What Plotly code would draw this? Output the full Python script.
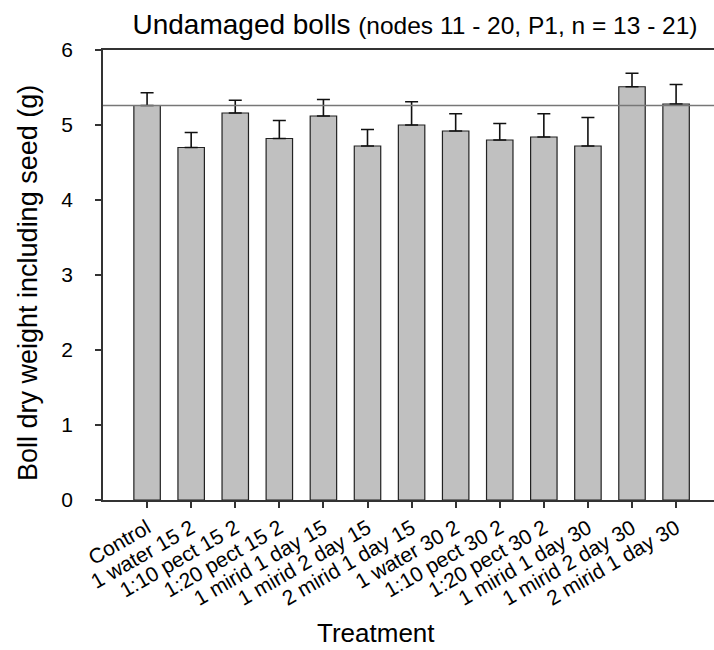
import plotly.graph_objects as go

# Treatment groups and mean boll dry weight (g) with upper standard error
treatments = [
    "Control", "1 water 15 2", "1:10 pect 15 2", "1:20 pect 15 2",
    "1 mirid 1 day 15", "1 mirid 2 day 15", "2 mirid 1 day 15",
    "1 water 30 2", "1:10 pect 30 2", "1:20 pect 30 2",
    "1 mirid 1 day 30", "1 mirid 2 day 30", "2 mirid 1 day 30",
]
mean_weight = [5.26, 4.70, 5.16, 4.82, 5.12, 4.72, 5.00,
               4.92, 4.80, 4.84, 4.72, 5.51, 5.28]
std_error = [0.17, 0.20, 0.17, 0.24, 0.22, 0.22, 0.31,
             0.23, 0.22, 0.31, 0.38, 0.18, 0.26]
y_ticks = [0, 1, 2, 3, 4, 5, 6]

FONT = "Liberation Sans, Arial, Helvetica, sans-serif"
x_pos = list(range(len(treatments)))

fig = go.Figure()
fig.add_trace(go.Bar(
    x=x_pos,
    y=mean_weight,
    width=0.6,
    marker=dict(color="#c0c0c0", line=dict(color="#222222", width=1.2)),
    error_y=dict(
        type="data",
        array=std_error,
        arrayminus=[0] * len(std_error),
        symmetric=False,
        color="#111111",
        thickness=1.6,
        width=6.5,
    ),
    hoverinfo="x+y",
))

# Horizontal reference at the control mean
fig.add_shape(
    type="line", xref="paper", x0=0, x1=1,
    yref="y", y0=mean_weight[0], y1=mean_weight[0],
    line=dict(color="#777777", width=1.5), layer="above",
)

fig.update_layout(
    width=714, height=650,
    margin=dict(l=103, r=0, t=50, b=150, pad=0),
    paper_bgcolor="white", plot_bgcolor="white",
    showlegend=False,
    font=dict(family=FONT, color="black"),
    title=dict(
        text="Undamaged bolls <span style='font-size:24.5px'>(nodes 11 - 20, P1, n = 13 - 21)</span>",
        font=dict(size=28, family=FONT, color="black"),
        x=(415 - 103) / 611, xref="paper", xanchor="center",
        y=1 - 24 / 650, yref="container", yanchor="middle",
    ),
    xaxis=dict(
        range=[-1, 12.86],
        tickmode="array", tickvals=x_pos, ticktext=treatments,
        tickangle=-30, tickfont=dict(size=21, family=FONT, color="black"),
        ticks="outside", ticklen=6, tickwidth=1.5, tickcolor="#333333",
        showline=True, linecolor="#333333", linewidth=1.5, mirror=True,
        showgrid=False, zeroline=False,
    ),
    yaxis=dict(
        range=[0, 6],
        tickmode="array", tickvals=y_ticks,
        tickfont=dict(size=21, family=FONT, color="black"),
        ticks="outside", ticklen=6, tickwidth=1.5, tickcolor="#333333",
        ticklabelstandoff=18,
        showline=True, linecolor="#333333", linewidth=1.5, mirror=False,
        showgrid=False, zeroline=False,
    ),
    annotations=[
        dict(text="Boll dry weight including seed (g)", textangle=-90,
             xref="paper", yref="paper", x=(28 - 103) / 611, y=(500 - 283) / 450,
             xanchor="center", yanchor="middle", showarrow=False,
             font=dict(size=27, family=FONT, color="black")),
        dict(text="Treatment",
             xref="paper", yref="paper", x=(375.5 - 103) / 611, y=(500 - 633) / 450,
             xanchor="center", yanchor="middle", showarrow=False,
             font=dict(size=26, family=FONT, color="black")),
    ],
)

fig.write_html("out.html")
